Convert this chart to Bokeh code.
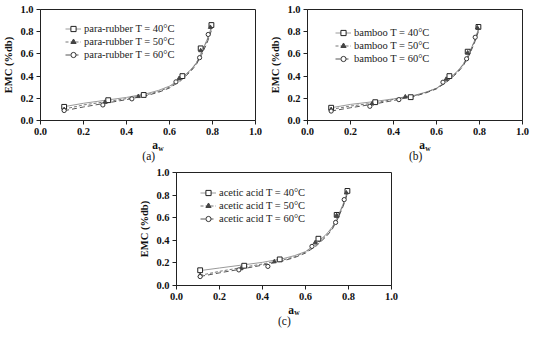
from bokeh.plotting import figure
from bokeh.models import (Legend, LegendItem, Range1d, FixedTicker,
                          Spacer, NumeralTickFormatter)
from bokeh.core.properties import value
from bokeh.layouts import row, column
from bokeh.embed import file_html
from bokeh.resources import INLINE

# ---------------- data ----------------
tick_values = [0.0, 0.2, 0.4, 0.6, 0.8, 1.0]

aw_40 = [0.11, 0.315, 0.48, 0.66, 0.745, 0.795]
aw_50 = [0.11, 0.30, 0.455, 0.645, 0.745, 0.79]
aw_60 = [0.11, 0.29, 0.425, 0.63, 0.74, 0.78]

# para-rubber
rub_40 = [0.123, 0.183, 0.230, 0.400, 0.650, 0.860]
rub_50 = [0.100, 0.165, 0.217, 0.380, 0.630, 0.840]
rub_60 = [0.090, 0.140, 0.195, 0.348, 0.566, 0.775]
# bamboo
bam_40 = [0.115, 0.165, 0.210, 0.400, 0.620, 0.843]
bam_50 = [0.100, 0.150, 0.214, 0.373, 0.610, 0.835]
bam_60 = [0.085, 0.128, 0.188, 0.345, 0.556, 0.750]
# acetic acid
ace_40 = [0.135, 0.175, 0.231, 0.414, 0.625, 0.837]
ace_50 = [0.090, 0.150, 0.211, 0.380, 0.620, 0.820]
ace_60 = [0.079, 0.138, 0.169, 0.346, 0.558, 0.760]

# fitted curves at these water activities
fit_aw = [0.11, 0.2, 0.3, 0.4, 0.5, 0.55, 0.6, 0.65, 0.7, 0.725, 0.75, 0.775, 0.8]
rub_fit_40 = [0.125, 0.155, 0.182, 0.208, 0.245, 0.272, 0.31, 0.37, 0.46, 0.52, 0.62, 0.73, 0.87]
rub_fit_50 = [0.103, 0.140, 0.168, 0.197, 0.235, 0.262, 0.30, 0.365, 0.455, 0.515, 0.61, 0.72, 0.86]
rub_fit_60 = [0.088, 0.122, 0.155, 0.188, 0.228, 0.255, 0.293, 0.355, 0.445, 0.505, 0.595, 0.70, 0.84]

bam_fit_40 = [0.115, 0.145, 0.168, 0.195, 0.228, 0.255, 0.29, 0.36, 0.45, 0.51, 0.60, 0.71, 0.85]
bam_fit_50 = [0.100, 0.130, 0.155, 0.190, 0.225, 0.252, 0.29, 0.355, 0.445, 0.505, 0.595, 0.705, 0.845]
bam_fit_60 = [0.085, 0.115, 0.145, 0.180, 0.220, 0.248, 0.285, 0.35, 0.435, 0.495, 0.58, 0.69, 0.83]

ace_fit_40 = [0.132, 0.155, 0.180, 0.205, 0.240, 0.265, 0.30, 0.37, 0.46, 0.52, 0.61, 0.72, 0.86]
ace_fit_50 = [0.090, 0.125, 0.158, 0.190, 0.228, 0.255, 0.295, 0.36, 0.45, 0.51, 0.60, 0.71, 0.85]
ace_fit_60 = [0.080, 0.112, 0.145, 0.180, 0.220, 0.248, 0.287, 0.35, 0.44, 0.50, 0.59, 0.70, 0.84]

SERIF = "Liberation Serif"
W = 267
LEFT, RIGHT = 38, 12
FRAME_W = W - LEFT - RIGHT


def panel(name, e40, e50, e60, f40, f50, f60, top, leg_x, leg_y, standoff):
    p = figure(width=W, height=139, x_range=Range1d(0, 1), y_range=Range1d(0, 1),
               output_backend="svg", toolbar_location=None,
               min_border_left=LEFT, min_border_right=RIGHT,
               min_border_top=top, min_border_bottom=19)
    p.background_fill_color = "white"
    p.border_fill_color = "white"
    p.outline_line_color = "#222222"
    p.outline_line_width = 1
    p.xgrid.visible = False
    p.ygrid.visible = False
    for ax in (p.xaxis[0], p.yaxis[0]):
        ax.ticker = FixedTicker(ticks=tick_values)
        ax.formatter = NumeralTickFormatter(format="0.0")
        ax.major_tick_in = 0
        ax.major_tick_out = 4
        ax.minor_tick_line_color = None
        ax.axis_line_color = "#222222"
        ax.major_tick_line_color = "#222222"
        ax.major_label_text_font = SERIF
        ax.major_label_text_font_style = "bold"
        ax.major_label_text_font_size = "10.5px"
        ax.major_label_text_color = "#111111"
        ax.major_label_standoff = 3
    p.yaxis.axis_label = "EMC (%db)"
    p.yaxis.axis_label_text_font = SERIF
    p.yaxis.axis_label_text_font_style = "bold"
    p.yaxis.axis_label_text_font_size = "10.5px"
    p.yaxis.axis_label_text_color = "#111111"
    p.yaxis.axis_label_standoff = 3

    l40 = p.line(fit_aw, f40, line_color="#9a9a9a", line_width=1)
    l50 = p.line(fit_aw, f50, line_color="#777777", line_width=1, line_dash="3 2")
    l60 = p.line(fit_aw, f60, line_color="#555555", line_width=1, line_dash="5 3")
    s40 = p.scatter(aw_40, e40, marker="square", size=4.8, fill_color="white",
                    line_color="#222222", line_width=1)
    s50 = p.scatter(aw_50, e50, marker="triangle", size=4, fill_color="#444444",
                    line_color="#444444", line_width=1)
    s60 = p.scatter(aw_60, e60, marker="circle", size=4.2, fill_color="white",
                    line_color="#333333", line_width=1)

    legend = Legend(items=[
        LegendItem(label=name + " T = 40\u00b0C", renderers=[l40, s40]),
        LegendItem(label=name + " T = 50\u00b0C", renderers=[l50, s50]),
        LegendItem(label=name + " T = 60\u00b0C", renderers=[l60, s60]),
    ], location=(leg_x, leg_y))
    legend.border_line_color = None
    legend.background_fill_alpha = 0
    legend.padding = 0
    legend.margin = 0
    legend.spacing = 0
    legend.glyph_width = 16
    legend.glyph_height = 13
    legend.label_height = 13
    legend.label_standoff = standoff
    legend.label_text_font = SERIF
    legend.label_text_font_size = "10.5px"
    legend.label_text_color = "#222222"
    p.add_layout(legend, "center")
    return p


def caption_strip(caption, aw_y, cap_y, cap_x):
    # strip under a panel holding the x-axis title a_w and the panel caption
    t = figure(width=W, height=26, output_backend="svg", toolbar_location=None,
               x_range=Range1d(-LEFT / FRAME_W, (W - LEFT) / FRAME_W),
               y_range=Range1d(0, 26),
               x_axis_location=None, y_axis_location=None,
               min_border_left=0, min_border_right=0,
               min_border_top=0, min_border_bottom=0)
    t.outline_line_color = None
    t.xgrid.visible = False
    t.ygrid.visible = False
    t.text(x=[0.497], y=[aw_y], text=["a"], text_align="right", text_baseline="middle",
           text_font=value(SERIF), text_font_style="bold", text_font_size="11.5px",
           text_color="#111111")
    t.text(x=[0.499], y=[aw_y - 3], text=["w"], text_align="left", text_baseline="middle",
           text_font=value(SERIF), text_font_style="bold", text_font_size="7.5px",
           text_color="#111111")
    t.text(x=[cap_x], y=[cap_y], text=[caption], text_align="center",
           text_baseline="middle", text_font=value(SERIF), text_font_size="11.5px",
           text_color="#111111")
    return t


pa = panel("para-rubber", rub_40, rub_50, rub_60, rub_fit_40, rub_fit_50, rub_fit_60,
           top=9, leg_x=25, leg_y=59, standoff=3)
pb = panel("bamboo", bam_40, bam_50, bam_60, bam_fit_40, bam_fit_50, bam_fit_60,
           top=9, leg_x=28, leg_y=55, standoff=3)
pc = panel("acetic acid", ace_40, ace_50, ace_60, ace_fit_40, ace_fit_50, ace_fit_60,
           top=7, leg_x=24, leg_y=60, standoff=3)

ta = caption_strip("(a)", aw_y=20.3, cap_y=9.5, cap_x=0.444)
tb = caption_strip("(b)", aw_y=20.3, cap_y=9.5, cap_x=0.444)
tc = caption_strip("(c)", aw_y=21.0, cap_y=9.2, cap_x=0.442)

layout = column(
    row(column(pa, ta), column(pb, tb)),
    row(Spacer(width=136, height=165), column(pc, tc)),
)

open("out.html", "w").write(file_html(layout, INLINE))
